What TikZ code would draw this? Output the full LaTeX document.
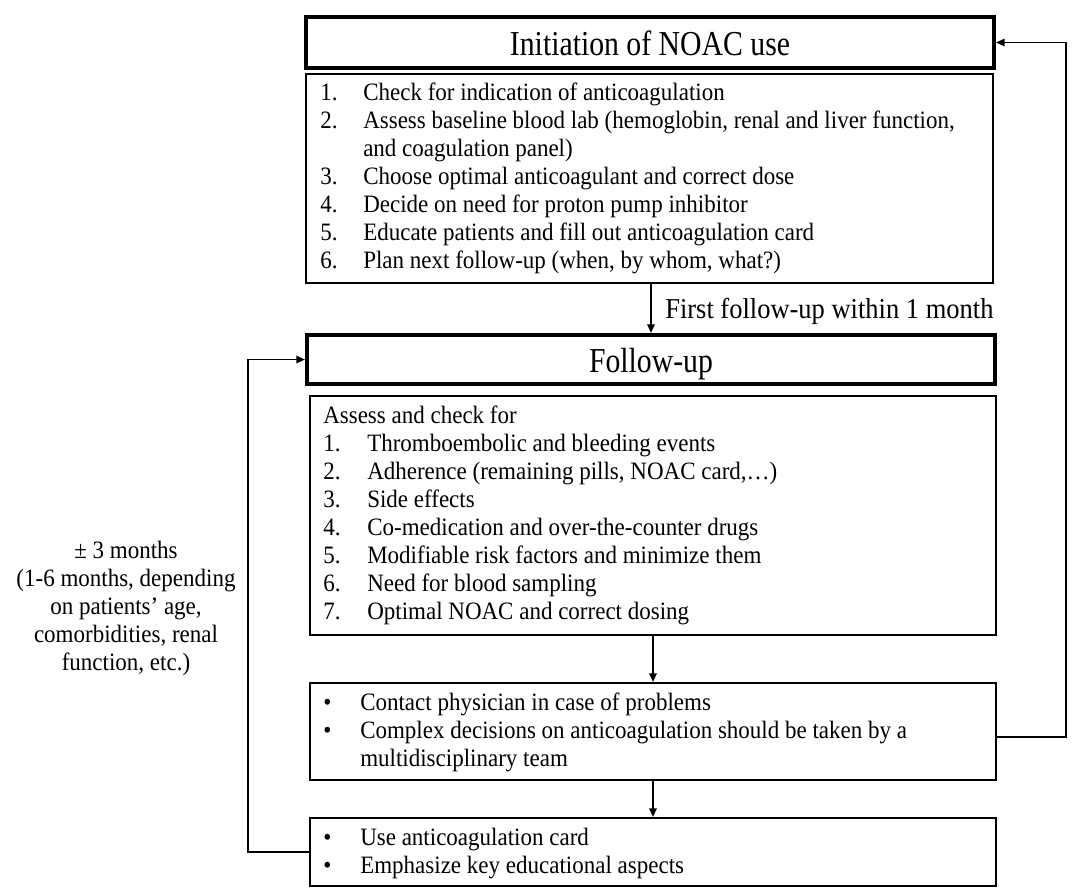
\documentclass[tikz,border=0pt]{standalone}
\usepackage{fontspec}
\setmainfont{Liberation Serif}[FakeStretch=0.92]
\newfontfamily\titlefont{Liberation Serif}[FakeStretch=0.85]
\usetikzlibrary{arrows.meta}
\begin{document}
\begin{tikzpicture}[x=0.75pt,y=-0.75pt,
  titlebox/.style={draw, line width=3pt, inner sep=0pt},
  titletxt/.style={inner sep=0pt, anchor=base, font=\titlefont\fontsize{26.25pt}{30pt}\selectfont},
  listbox/.style={draw, line width=1.5pt, inner sep=0pt},
  txt/.style={inner sep=0pt, anchor=north west, align=left, font=\fontsize{18.75pt}{21pt}\selectfont},
  arr/.style={line width=1.4pt, -{Triangle[length=6.5pt,width=5.5pt]}}]
\useasboundingbox (0,0) rectangle (1081,895);

% boxes
\node[titlebox, minimum width=516pt, minimum height=38pt] (t1) at (650,42.5) {};
\node[listbox, minimum width=515.25pt, minimum height=156.75pt] (b2) at (649.5,178.5) {};
\node[titlebox, minimum width=516pt, minimum height=36.75pt] (t2) at (651,359.5) {};
\node[listbox, minimum width=514.5pt, minimum height=179.25pt] (b3) at (653,515.5) {};
\node[listbox, minimum width=514.5pt, minimum height=72.75pt] (b4) at (653,731.5) {};
\node[listbox, minimum width=514.5pt, minimum height=51pt] (b5) at (653,852) {};

% titles
\node[titletxt] (t1t) at (650,56) {Initiation of NOAC use};
\node[titletxt] (t2t) at (651,372) {Follow-up};

% texts
\node[txt] (b2t) at (320,81) {\strut\makebox[32.25pt][l]{1.}Check for indication of anticoagulation\\
\makebox[32.25pt][l]{2.}Assess baseline blood lab (hemoglobin, renal and liver function,\\
\hspace*{32.25pt}and coagulation panel)\\
\makebox[32.25pt][l]{3.}Choose optimal anticoagulant and correct dose\\
\makebox[32.25pt][l]{4.}Decide on need for proton pump inhibitor\\
\makebox[32.25pt][l]{5.}Educate patients and fill out anticoagulation card\\
\makebox[32.25pt][l]{6.}Plan next follow-up (when, by whom, what?)};

\node[txt] (b3t) at (323,404) {\strut Assess and check for\\
\makebox[33pt][l]{1.}Thromboembolic and bleeding events\\
\makebox[33pt][l]{2.}Adherence (remaining pills, NOAC card,…)\\
\makebox[33pt][l]{3.}Side effects\\
\makebox[33pt][l]{4.}Co-medication and over-the-counter drugs\\
\makebox[33pt][l]{5.}Modifiable risk factors and minimize them\\
\makebox[33pt][l]{6.}Need for blood sampling\\
\makebox[33pt][l]{7.}Optimal NOAC and correct dosing};

\node[txt] (b4t) at (323,691) {\strut\makebox[27.75pt][l]{•}Contact physician in case of problems\\
\makebox[27.75pt][l]{•}Complex decisions on anticoagulation should be taken by a\\
\hspace*{27.75pt}multidisciplinary team};

\node[txt] (b5t) at (323,826) {\strut\makebox[27.75pt][l]{•}Use anticoagulation card\\
\makebox[27.75pt][l]{•}Emphasize key educational aspects};

\node[inner sep=0pt, align=center, font=\fontsize{18.75pt}{21pt}\selectfont] (left) at (126,607.5)
  {\strut ± 3 months\\(1-6 months, depending\\on patients’ age,\\comorbidities, renal\\function, etc.)};

\node[anchor=base west, inner sep=0pt, font=\fontsize{21.6pt}{25pt}\selectfont] (lab) at (665,318) {First follow-up within 1 month};

% connector corners
\coordinate (rc) at (1066,42.5);
\coordinate (lc) at (248,359.5);

% connectors
\draw[arr] (t2.north |- b2.south) -- (t2.north);
\draw[arr] (b3.south) -- (b4.north);
\draw[arr] (b4.south) -- (b5.north);
\draw[arr] ([yshift=-4pt]b4.east) -| (rc) -- (t1.east);
\draw[arr] (b5.west) -| (lc) -- (t2.west);
\end{tikzpicture}
\end{document}
